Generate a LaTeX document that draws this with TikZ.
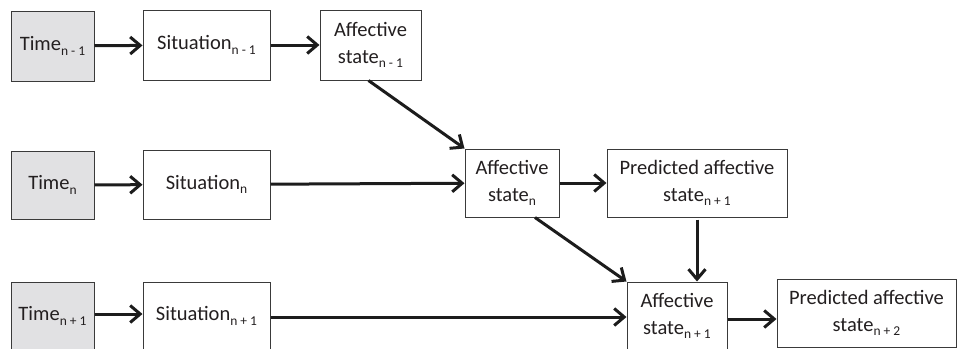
\documentclass[tikz,border=0pt]{standalone}
\usepackage{fontspec}
\setmainfont{Carlito}
\usetikzlibrary{arrows.meta,calc}
\definecolor{boxgray}{HTML}{3A3A3A}
\definecolor{timegray}{HTML}{E1E1E3}
\definecolor{arrcol}{HTML}{1C1C1C}
\definecolor{txt}{HTML}{231F20}
\newcommand\sbs[1]{\raisebox{-0.22em}{\fontsize{13.5}{13.5}\selectfont #1}}
\begin{document}
\begin{tikzpicture}[x=1pt,y=-1pt,
 box/.style={draw=boxgray, line width=1pt, fill=white, align=center, inner sep=0pt, font=\fontsize{20.5}{27}\selectfont, text=txt},
 tbox/.style={box, fill=timegray},
 arr/.style={line width=3pt, draw=arrcol, -{Straight Barb[length=10pt,width=17pt]}},
]
\useasboundingbox (0,0) rectangle (957,348);
\clip (0,0) rectangle (957,348);
% row 1
\node[tbox, minimum width=83pt, minimum height=70pt] (t1) at (52.5,46) {Time\sbs{n - 1}};
\node[box, minimum width=127pt, minimum height=70pt] (s1) at (206.5,45) {Situation\sbs{n - 1}};
\node[box, minimum width=101pt, minimum height=70pt] (a1) at (370.5,45) {Affective\\state\sbs{n - 1}};
% row 2
\node[tbox, minimum width=83pt, minimum height=68pt] (t2) at (52.5,185) {Time\sbs{n}};
\node[box, minimum width=127pt, minimum height=69pt] (s2) at (206.5,184.5) {Situation\sbs{n}};
\node[box, minimum width=94pt, minimum height=68pt] (a2) at (512,183) {Affective\\state\sbs{n}};
\node[box, minimum width=180pt, minimum height=68pt] (p1) at (697,183) {Predicted affective\\state\sbs{n + 1}};
% row 3
\node[tbox, minimum width=83pt, minimum height=68pt] (t3) at (52.5,316) {Time\sbs{n + 1}};
\node[box, minimum width=127pt, minimum height=68pt] (s3) at (206.5,316) {Situation\sbs{n + 1}};
\node[box, minimum width=100pt, minimum height=68pt] (a3) at (677,316) {Affective\\state\sbs{n + 1}};
\node[box, minimum width=179pt, minimum height=68pt] (p2) at (866.5,313) {Predicted affective\\state\sbs{n + 2}};
% arrows
\draw[arr] (t1) -- (s1);
\draw[arr] (s1) -- (a1);
\draw[arr] ([xshift=-2pt]a1.south) -- (a2.north west);
\draw[arr] (t2) -- (s2);
\draw[arr] (s2) -- (a2);
\draw[arr] (a2) -- (p1);
\draw[arr] ([xshift=23pt]a2.south) -- (a3.north west);
\draw[arr] ([yshift=-2pt]p1.south) -- (p1.south |- a3.north);
\draw[arr] ([yshift=2pt]t3.east) -- ([yshift=2pt]t3.east -| s3.west);
\draw[arr] ([yshift=-1pt]s3.east) -- ([yshift=-1pt]s3.east -| a3.west);
\draw[arr] ([yshift=-3pt]a3.east) -- ([yshift=-3pt]a3.east -| p2.west);
\end{tikzpicture}
\end{document}
